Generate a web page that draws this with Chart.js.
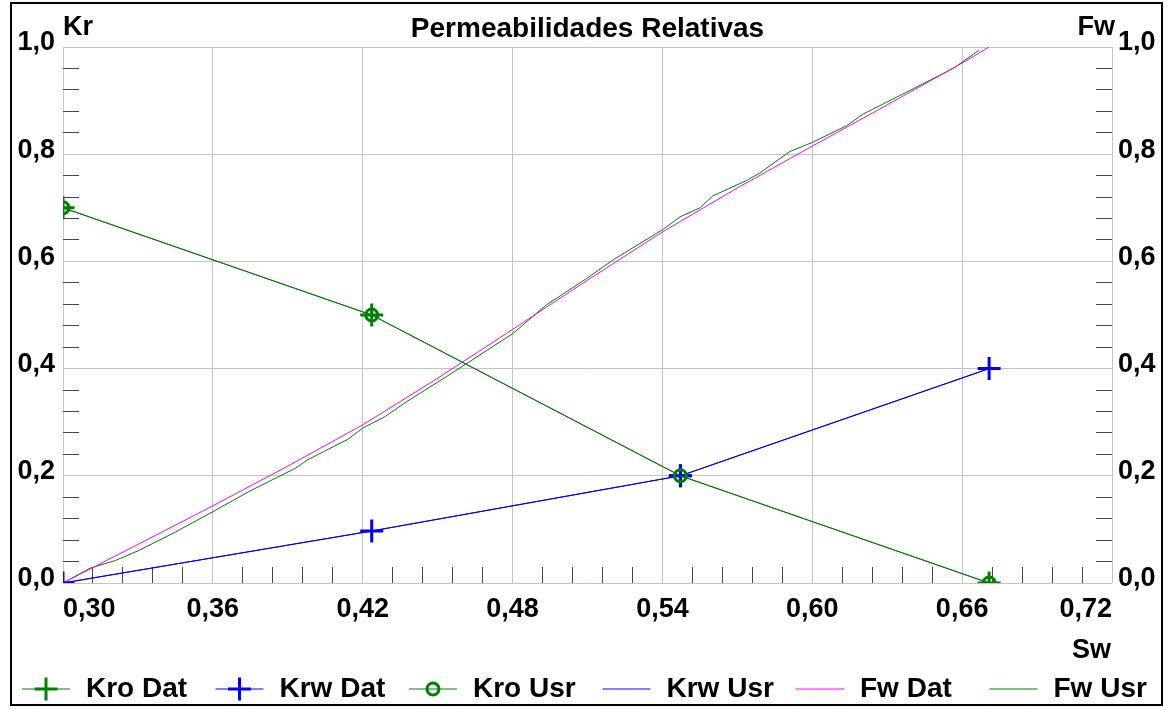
<!DOCTYPE html>
<html>
<head>
<meta charset="utf-8">
<title>Permeabilidades Relativas</title>
<script src="https://cdn.jsdelivr.net/npm/chart.js@4.4.1/dist/chart.umd.min.js"></script>
<style>
  html, body { margin: 0; padding: 0; background: #ffffff; }
  #wrap { position: relative; width: 1168px; height: 709px; }
</style>
</head>
<body>
<div id="wrap"><canvas id="chart" width="1168" height="709"></canvas></div>
<script>
// Saturation points of the relative-permeability table
const swPoints = [0.30, 0.4236, 0.5472, 0.6708];
const kroValues = [0.70, 0.50, 0.20, 0.00];
const krwValues = [0.00, 0.097, 0.20, 0.40];

// Fractional flow, table curve
const fwDatSw = [0.30, 0.31, 0.33, 0.36, 0.39, 0.42, 0.45, 0.48, 0.51, 0.54, 0.57, 0.60, 0.63, 0.66, 0.6708];
const fwDatValues = [0.000, 0.024, 0.072, 0.144, 0.218, 0.295, 0.382, 0.473, 0.565, 0.655, 0.737, 0.815, 0.892, 0.970, 1.000];

// Fractional flow, user curve
const fwUsrSw = [0.30, 0.311, 0.321, 0.33, 0.345, 0.36, 0.375, 0.393, 0.398, 0.414, 0.42, 0.4288, 0.4375, 0.4535,
                 0.48, 0.4936, 0.5096, 0.5203, 0.54, 0.547, 0.555, 0.5601, 0.5737, 0.579, 0.591, 0.60, 0.6137,
                 0.6204, 0.6404, 0.6564, 0.6668];
const fwUsrValues = [0.000, 0.028, 0.042, 0.060, 0.095, 0.133, 0.172, 0.214, 0.230, 0.268, 0.289, 0.310, 0.338, 0.385,
                     0.465, 0.519, 0.568, 0.603, 0.659, 0.683, 0.700, 0.722, 0.751, 0.765, 0.805, 0.822, 0.853,
                     0.875, 0.922, 0.960, 0.994];

// Axis ticks
const swTicks = [0.30, 0.36, 0.42, 0.48, 0.54, 0.60, 0.66, 0.72];
const swTickLabels = ['0,30', '0,36', '0,42', '0,48', '0,54', '0,60', '0,66', '0,72'];
const krTicks = [0.0, 0.2, 0.4, 0.6, 0.8, 1.0];
const krTickLabels = ['0,0', '0,2', '0,4', '0,6', '0,8', '1,0'];
const minorDivisions = 5;

const GREEN = '#008000';
const BLUE = '#0000ff';
const MAGENTA = '#ff00ff';
const GRID = '#c4c4c4';
const MINOR = '#474747';
const FONT = "'Liberation Sans', Arial, Helvetica, sans-serif";

function withMinors(majors, n) {
  const out = [];
  for (let i = 0; i < majors.length - 1; i++) {
    const a = majors[i], b = majors[i + 1];
    for (let k = 0; k < n; k++) out.push(a + (b - a) * k / n);
  }
  out.push(majors[majors.length - 1]);
  return out;
}
const swAllTicks = withMinors(swTicks, minorDivisions);
const krAllTicks = withMinors(krTicks, minorDivisions);

function majorIndex(list, v) {
  for (let i = 0; i < list.length; i++) if (Math.abs(list[i] - v) < 1e-6) return i;
  return -1;
}
function pts(xs, ys) { return xs.map((x, i) => ({ x: x, y: ys[i] })); }

function gridColor(list) {
  return ctx => (ctx.tick && majorIndex(list, ctx.tick.value) >= 0) ? GRID : 'rgba(0,0,0,0)';
}
function tickColor(list) {
  return ctx => (ctx.tick && majorIndex(list, ctx.tick.value) < 0) ? MINOR : 'rgba(0,0,0,0)';
}
function tickLabel(list, labels) {
  return v => { const i = majorIndex(list, v); return i >= 0 ? labels[i] : ''; };
}

const tickFont = { family: FONT, size: 27, weight: 'bold' };

// Frame, titles and a fixed-column legend
const decorations = {
  id: 'decorations',
  beforeDraw(chart) {
    const c = chart.ctx;
    c.save();
    c.fillStyle = '#ffffff';
    c.fillRect(0, 0, chart.width, chart.height);
    c.restore();
  },
  afterDraw(chart) {
    const c = chart.ctx;
    const area = chart.chartArea;
    c.save();
    c.strokeStyle = '#000000';
    c.lineWidth = 2;
    c.strokeRect(11, 3, 1151, 702);

    c.fillStyle = '#000000';
    c.textBaseline = 'alphabetic';
    c.font = 'bold 27px ' + FONT;
    c.textAlign = 'left';
    c.fillText('Kr', area.left, 35);
    c.textAlign = 'right';
    c.fillText('Fw', area.right + 3, 35);
    c.fillText('Sw', area.right - 1, 658);
    c.textAlign = 'center';
    c.font = 'bold 28px ' + FONT;
    c.fillText('Permeabilidades Relativas', (area.left + area.right) / 2, 37);

    const y = 689;
    chart.data.datasets.forEach((ds, i) => {
      const x0 = 22 + 193.5 * i;
      c.strokeStyle = ds.borderColor;
      c.lineWidth = 1;
      c.beginPath();
      c.moveTo(x0, y);
      c.lineTo(x0 + 48, y);
      c.stroke();
      if (ds.pointRadius > 0) {
        const cx = x0 + 24, r = ds.pointRadius;
        c.strokeStyle = ds.pointBorderColor;
        c.lineWidth = ds.pointBorderWidth;
        c.beginPath();
        if (ds.pointStyle === 'cross') {
          c.moveTo(cx, y - r); c.lineTo(cx, y + r);
          c.moveTo(cx - r, y); c.lineTo(cx + r, y);
        } else {
          c.arc(cx, y, r, 0, Math.PI * 2);
        }
        c.stroke();
      }
      c.fillStyle = '#000000';
      c.font = 'bold 28px ' + FONT;
      c.textAlign = 'left';
      c.textBaseline = 'middle';
      c.fillText(ds.label, x0 + 64, y);
    });
    c.restore();
  }
};

new Chart(document.getElementById('chart'), {
  type: 'scatter',
  data: {
    datasets: [
      { label: 'Kro Dat', data: pts(swPoints, kroValues), yAxisID: 'y', showLine: true,
        borderColor: GREEN, borderWidth: 1, pointStyle: 'cross', pointRadius: 11.5,
        pointBorderWidth: 3, pointBorderColor: GREEN, pointBackgroundColor: 'rgba(0,0,0,0)', order: 2 },
      { label: 'Krw Dat', data: pts(swPoints, krwValues), yAxisID: 'y', showLine: true,
        borderColor: BLUE, borderWidth: 1, pointStyle: 'cross', pointRadius: 11.5,
        pointBorderWidth: 3, pointBorderColor: BLUE, pointBackgroundColor: 'rgba(0,0,0,0)', order: 1 },
      { label: 'Kro Usr', data: pts(swPoints, kroValues), yAxisID: 'y', showLine: true,
        borderColor: GREEN, borderWidth: 1, pointStyle: 'circle', pointRadius: 6,
        pointBorderWidth: 3, pointBorderColor: GREEN, pointBackgroundColor: 'rgba(0,0,0,0)', order: 0 },
      { label: 'Krw Usr', data: pts(swPoints, krwValues), yAxisID: 'y', showLine: true,
        borderColor: BLUE, borderWidth: 1, pointRadius: 0, order: 3 },
      { label: 'Fw Dat', data: pts(fwDatSw, fwDatValues), yAxisID: 'y1', showLine: true,
        borderColor: MAGENTA, borderWidth: 1, pointRadius: 0, order: 4 },
      { label: 'Fw Usr', data: pts(fwUsrSw, fwUsrValues), yAxisID: 'y1', showLine: true,
        borderColor: GREEN, borderWidth: 1, pointRadius: 0, order: 5 }
    ]
  },
  options: {
    responsive: false,
    animation: false,
    devicePixelRatio: 1,
    layout: { padding: { top: 47, left: 0, right: 0, bottom: 0 } },
    plugins: { legend: { display: false }, tooltip: { enabled: false }, title: { display: false } },
    elements: { line: { tension: 0 } },
    scales: {
      x: {
        type: 'linear', position: 'bottom', min: 0.30, max: 0.72,
        afterBuildTicks: s => { s.ticks = swAllTicks.map(v => ({ value: v })); },
        afterFit: s => { s.height = 126; },
        border: { display: false },
        grid: { lineWidth: 1, tickLength: -16, color: gridColor(swTicks), tickColor: tickColor(swTicks) },
        ticks: { autoSkip: false, maxRotation: 0, minRotation: 0, align: 'inner', padding: 26,
                 color: '#000000', font: tickFont, callback: tickLabel(swTicks, swTickLabels) }
      },
      y: {
        type: 'linear', position: 'left', min: 0, max: 1,
        afterBuildTicks: s => { s.ticks = krAllTicks.map(v => ({ value: v })); },
        afterFit: s => { s.width = 63; },
        border: { display: false },
        grid: { lineWidth: 1, tickLength: -16, color: gridColor(krTicks), tickColor: tickColor(krTicks) },
        ticks: { autoSkip: false, padding: 24, labelOffset: -4, color: '#000000', font: tickFont,
                 callback: tickLabel(krTicks, krTickLabels) }
      },
      y1: {
        type: 'linear', position: 'right', min: 0, max: 1,
        afterBuildTicks: s => { s.ticks = krAllTicks.map(v => ({ value: v })); },
        afterFit: s => { s.width = 56; },
        border: { display: false },
        grid: { drawOnChartArea: false, lineWidth: 1, tickLength: -16, tickColor: tickColor(krTicks) },
        ticks: { autoSkip: false, padding: 22, labelOffset: -4, color: '#000000', font: tickFont,
                 callback: tickLabel(krTicks, krTickLabels) }
      }
    }
  },
  plugins: [decorations]
});
</script>
</body>
</html>
